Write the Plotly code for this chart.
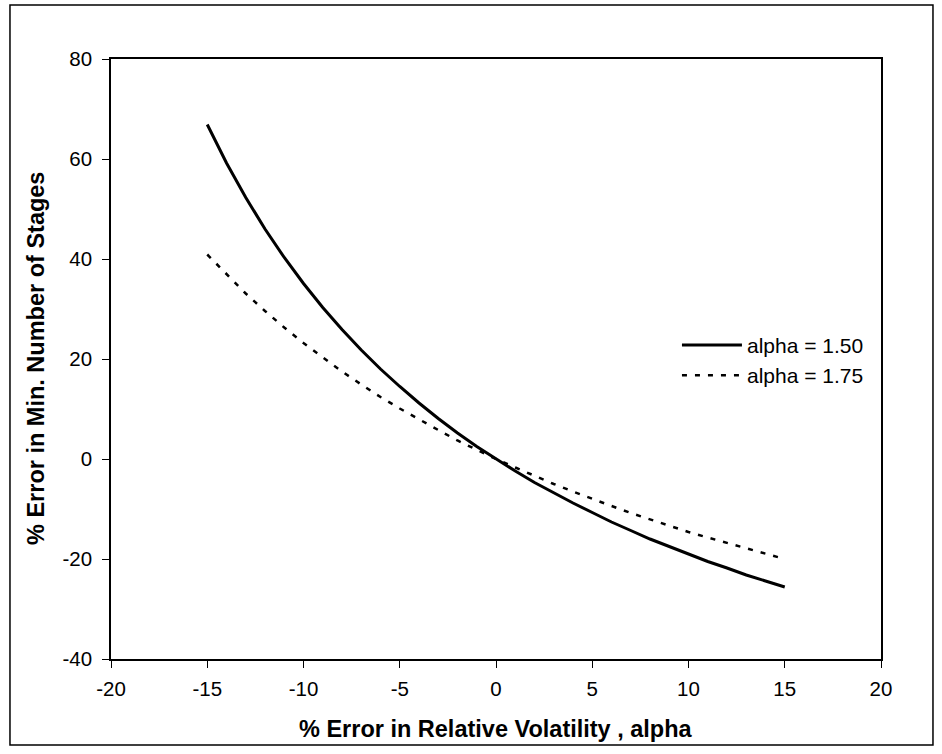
import plotly.graph_objects as go

x_err = list(range(-15, 16))
n_err_150 = [66.9, 59.2, 52.3, 46.0, 40.3, 35.1, 30.3, 25.9, 21.8, 18.0, 14.5, 11.2, 8.1, 5.2, 2.5, 0.0,
             -2.4, -4.7, -6.8, -8.8, -10.7, -12.6, -14.3, -16.0, -17.5, -19.0, -20.5, -21.8, -23.2, -24.4, -25.6]
n_err_175 = [40.9, 36.9, 33.1, 29.6, 26.3, 23.2, 20.3, 17.5, 14.9, 12.4, 10.1, 7.9, 5.8, 3.7, 1.8, 0.0,
             -1.7, -3.4, -5.0, -6.5, -8.0, -9.4, -10.8, -12.1, -13.3, -14.6, -15.7, -16.8, -17.9, -19.0, -20.0]
x_ticks = [-20, -15, -10, -5, 0, 5, 10, 15, 20]
y_ticks = [-40, -20, 0, 20, 40, 60, 80]

FONT = "Liberation Sans, Arial, sans-serif"

fig = go.Figure()
fig.add_trace(go.Scatter(x=x_err, y=n_err_150, mode="lines", name="alpha = 1.50",
                         line=dict(color="black", width=3)))
fig.add_trace(go.Scatter(x=x_err, y=n_err_175, mode="lines", name="alpha = 1.75",
                         line=dict(color="black", width=2.5, dash="5px,8px")))

axis_common = dict(showline=True, linecolor="black", linewidth=1.5, mirror=True,
                   ticks="outside", ticklen=7, tickcolor="black", tickwidth=1,
                   showgrid=False, zeroline=False,
                   tickfont=dict(family=FONT, size=20.5, color="black"))

fig.update_xaxes(range=[-20, 20], tickvals=x_ticks, ticktext=[str(v) for v in x_ticks],
                 ticklabelstandoff=4, **axis_common)
fig.update_yaxes(range=[-40, 80], tickvals=y_ticks, ticktext=[str(v) for v in y_ticks],
                 ticklabelstandoff=6, **axis_common)

fig.add_annotation(text="<b>% Error in Relative Volatility , alpha</b>",
                   xref="paper", yref="paper", x=0.5, y=-0.1167,
                   xanchor="center", yanchor="middle", showarrow=False,
                   font=dict(family=FONT, size=23.5, color="black"))
fig.add_annotation(text="<b>% Error in Min. Number of Stages</b>",
                   xref="paper", yref="paper", x=-0.0974, y=0.5, textangle=-90,
                   xanchor="center", yanchor="middle", showarrow=False,
                   font=dict(family=FONT, size=23.5, color="black"))

fig.add_shape(type="rect", xref="paper", yref="paper",
              x0=-0.1312, x1=1.0675, y0=-0.1433, y1=1.09,
              line=dict(color="black", width=1.5), fillcolor="rgba(0,0,0,0)", layer="below")

fig.update_layout(
    width=942, height=754,
    margin=dict(l=111, r=61, t=59, b=95),
    paper_bgcolor="white", plot_bgcolor="white",
    font=dict(family=FONT, size=20, color="black"),
    showlegend=True,
    legend=dict(x=0.735, y=0.557, xanchor="left", yanchor="top",
                bgcolor="rgba(0,0,0,0)", borderwidth=0,
                font=dict(family=FONT, size=21, color="black"),
                itemwidth=60, tracegroupgap=0),
)

fig.write_html("out.html")
